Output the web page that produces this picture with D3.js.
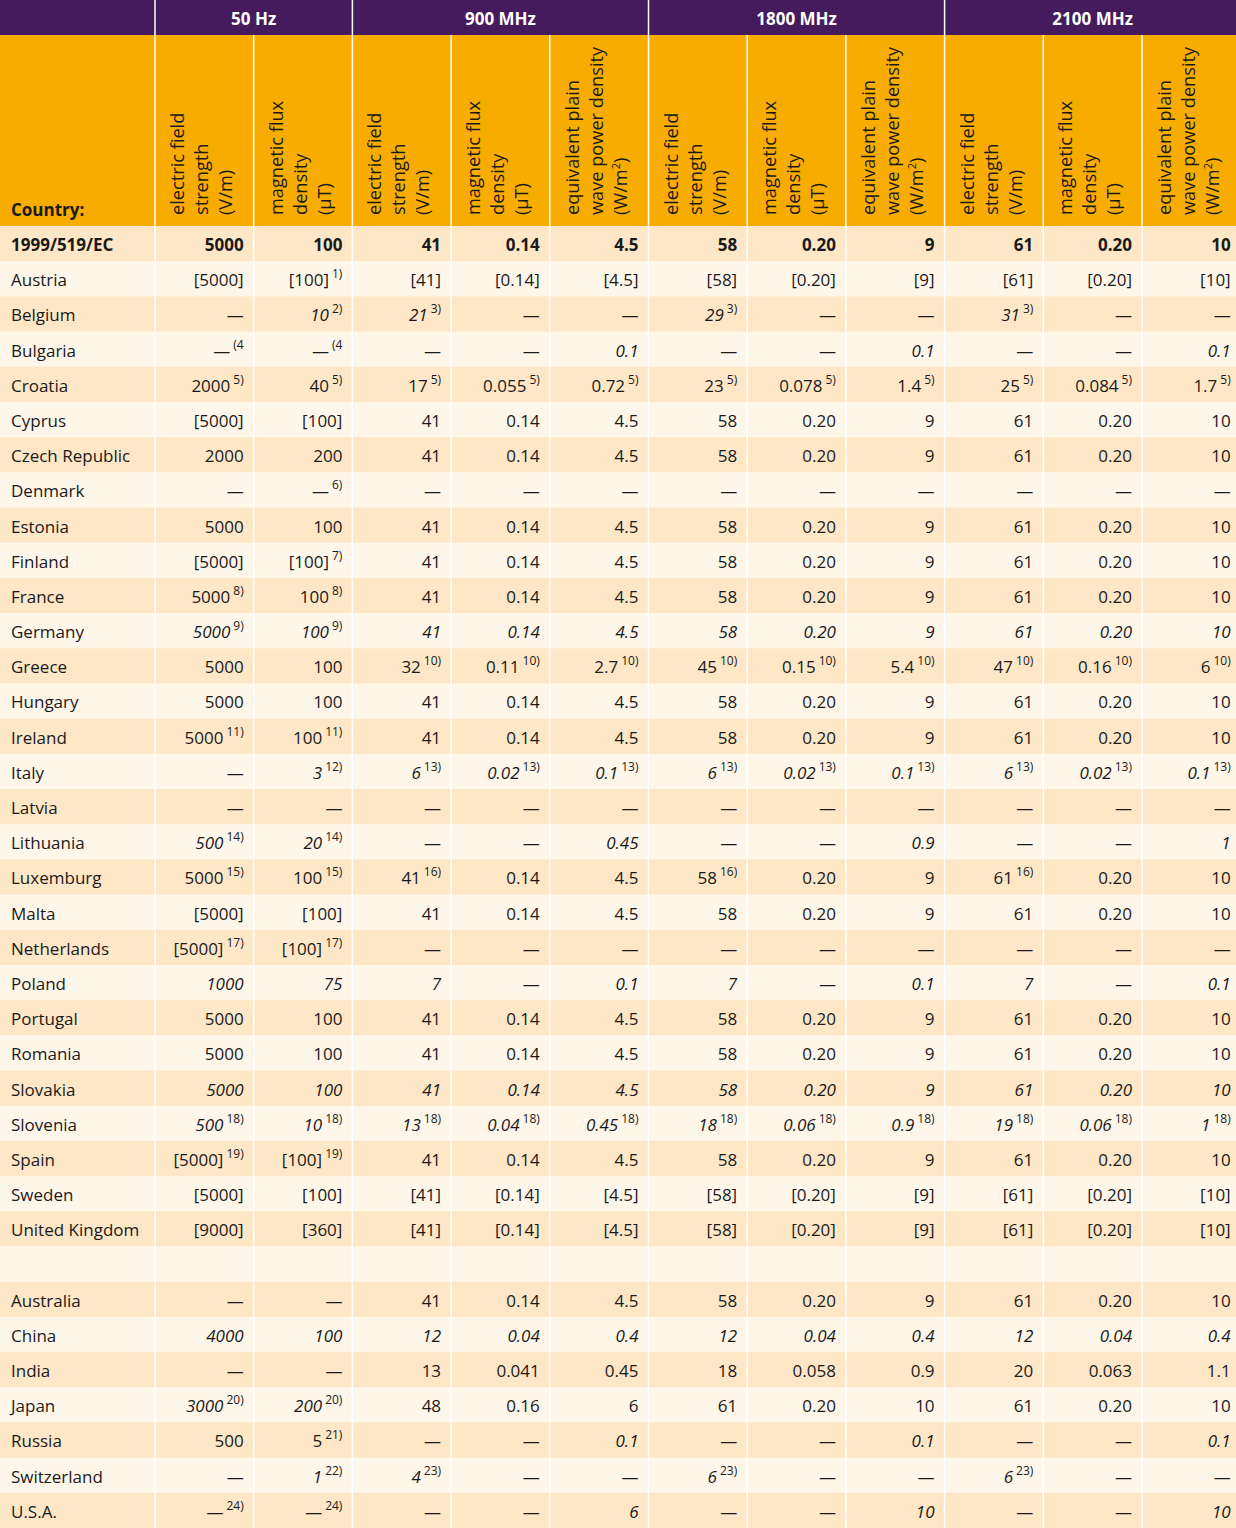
<!DOCTYPE html>
<html><head><meta charset="utf-8">
<script src="https://cdn.jsdelivr.net/npm/d3@7"></script>
<style>
html,body{margin:0;padding:0;background:#fff;overflow:hidden;}
svg{display:block;font-family:"Open Sans",sans-serif;}
</style></head><body>
<svg id="chart" width="1236" height="1528"></svg>
<script>
// ---------- DATA ----------
// notation: leading "*" = italic value, "^" separates value and footnote mark
const groups = ["50 Hz", "900 MHz", "1800 MHz", "2100 MHz"];
const groupSpans = [2, 3, 3, 3];
const headE = ["electric field", "strength", "(V/m)"];
const headB = ["magnetic flux", "density", "(µT)"];
const headS = ["equivalent plain", "wave power density", "(W/m²)"];
const subHeaders = [headE, headB, headE, headB, headS, headE, headB, headS, headE, headB, headS];

const countries = ["1999/519/EC","Austria","Belgium","Bulgaria","Croatia","Cyprus","Czech Republic","Denmark","Estonia","Finland","France","Germany","Greece","Hungary","Ireland","Italy","Latvia","Lithuania","Luxemburg","Malta","Netherlands","Poland","Portugal","Romania","Slovakia","Slovenia","Spain","Sweden","United Kingdom","","Australia","China","India","Japan","Russia","Switzerland","U.S.A."];

const hz50E = ["5000","[5000]","—","—^(4","2000^5)","[5000]","2000","—","5000","[5000]","5000^8)","*5000^9)","5000","5000","5000^11)","—","—","*500^14)","5000^15)","[5000]","[5000]^17)","*1000","5000","5000","*5000","*500^18)","[5000]^19)","[5000]","[9000]","","—","*4000","—","*3000^20)","500","—","—^24)"];
const hz50B = ["100","[100]^1)","*10^2)","—^(4","40^5)","[100]","200","—^6)","100","[100]^7)","100^8)","*100^9)","100","100","100^11)","*3^12)","—","*20^14)","100^15)","[100]","[100]^17)","*75","100","100","*100","*10^18)","[100]^19)","[100]","[360]","","—","*100","—","*200^20)","5^21)","*1^22)","—^24)"];
const mhz900E = ["41","[41]","*21^3)","—","17^5)","41","41","—","41","41","41","*41","32^10)","41","41","*6^13)","—","—","41^16)","41","—","*7","41","41","*41","*13^18)","41","[41]","[41]","","41","*12","13","48","—","*4^23)","—"];
const mhz900B = ["0.14","[0.14]","—","—","0.055^5)","0.14","0.14","—","0.14","0.14","0.14","*0.14","0.11^10)","0.14","0.14","*0.02^13)","—","—","0.14","0.14","—","—","0.14","0.14","*0.14","*0.04^18)","0.14","[0.14]","[0.14]","","0.14","*0.04","0.041","0.16","—","—","—"];
const mhz900S = ["4.5","[4.5]","—","*0.1","0.72^5)","4.5","4.5","—","4.5","4.5","4.5","*4.5","2.7^10)","4.5","4.5","*0.1^13)","—","*0.45","4.5","4.5","—","*0.1","4.5","4.5","*4.5","*0.45^18)","4.5","[4.5]","[4.5]","","4.5","*0.4","0.45","6","*0.1","—","*6"];
const mhz1800E = ["58","[58]","*29^3)","—","23^5)","58","58","—","58","58","58","*58","45^10)","58","58","*6^13)","—","—","58^16)","58","—","*7","58","58","*58","*18^18)","58","[58]","[58]","","58","*12","18","61","—","*6^23)","—"];
const mhz1800B = ["0.20","[0.20]","—","—","0.078^5)","0.20","0.20","—","0.20","0.20","0.20","*0.20","0.15^10)","0.20","0.20","*0.02^13)","—","—","0.20","0.20","—","—","0.20","0.20","*0.20","*0.06^18)","0.20","[0.20]","[0.20]","","0.20","*0.04","0.058","0.20","—","—","—"];
const mhz1800S = ["9","[9]","—","*0.1","1.4^5)","9","9","—","9","9","9","*9","5.4^10)","9","9","*0.1^13)","—","*0.9","9","9","—","*0.1","9","9","*9","*0.9^18)","9","[9]","[9]","","9","*0.4","0.9","10","*0.1","—","*10"];
const mhz2100E = ["61","[61]","*31^3)","—","25^5)","61","61","—","61","61","61","*61","47^10)","61","61","*6^13)","—","—","61^16)","61","—","*7","61","61","*61","*19^18)","61","[61]","[61]","","61","*12","20","61","—","*6^23)","—"];
const mhz2100B = ["0.20","[0.20]","—","—","0.084^5)","0.20","0.20","—","0.20","0.20","0.20","*0.20","0.16^10)","0.20","0.20","*0.02^13)","—","—","0.20","0.20","—","—","0.20","0.20","*0.20","*0.06^18)","0.20","[0.20]","[0.20]","","0.20","*0.04","0.063","0.20","—","—","—"];
const mhz2100S = ["10","[10]","—","*0.1","1.7^5)","10","10","—","10","10","10","*10","6^10)","10","10","*0.1^13)","—","*1","10","10","—","*0.1","10","10","*10","*1^18)","10","[10]","[10]","","10","*0.4","1.1","10","*0.1","—","*10"];

const columns = [hz50E, hz50B, mhz900E, mhz900B, mhz900S, mhz1800E, mhz1800B, mhz1800S, mhz2100E, mhz2100B, mhz2100S];

// ---------- LAYOUT ----------
const W = 1236, H = 1528;
const countryW = 155, colW = 98.7, head1H = 35, head2H = 191;
const bodyTop = head1H + head2H;
const purple = "#461b5d", orange = "#f8ac00", rowDark = "#fee7c6", rowLight = "#fff6ea";
const txt = "#1a1a1a";

const svg = d3.select("#chart");
const x = d3.scaleBand().domain(d3.range(columns.length)).range([countryW, countryW + colW * columns.length]);
const y = d3.scaleBand().domain(d3.range(countries.length)).range([bodyTop, H]);

// body row backgrounds
svg.append("g").selectAll("rect").data(countries).join("rect")
  .attr("x", 0).attr("y", (d,i) => y(i)).attr("width", W).attr("height", y.bandwidth() + 0.5)
  .attr("fill", (d,i) => i % 2 === 0 ? rowDark : rowLight);

// header backgrounds
svg.append("rect").attr("x",0).attr("y",0).attr("width",W).attr("height",head1H).attr("fill",purple);
svg.append("rect").attr("x",0).attr("y",head1H).attr("width",W).attr("height",head2H).attr("fill",orange);

// vertical white lines (all columns, below header row 1)
const bounds = d3.range(columns.length).map(i => x(i));
svg.append("g").selectAll("line").data(bounds).join("line")
  .attr("x1", d => d).attr("x2", d => d).attr("y1", head1H).attr("y2", H)
  .attr("stroke", "#fff").attr("stroke-width", 1.5);

// group boundaries in header row 1
const groupStarts = [];
groupSpans.reduce((acc, s) => { groupStarts.push(acc); return acc + s; }, 0);
svg.append("g").selectAll("line").data(groupStarts).join("line")
  .attr("x1", d => x(d)).attr("x2", d => x(d)).attr("y1", 0).attr("y2", head1H)
  .attr("stroke", "#fff").attr("stroke-width", 1.5);

// group titles
svg.append("g").selectAll("text").data(groups).join("text")
  .attr("x", (d,i) => x(groupStarts[i]) + x.bandwidth() * groupSpans[i] / 2)
  .attr("y", 25).attr("text-anchor", "middle")
  .attr("fill", "#fff").attr("font-weight", 700).attr("font-size", 17)
  .text(d => d);

// "Country:"
svg.append("text").attr("x", 11).attr("y", 216).attr("font-weight", 700)
  .attr("font-size", 17).attr("fill", txt).text("Country:");

// rotated sub headers
const sh = svg.append("g").selectAll("g").data(subHeaders).join("g");
sh.each(function(lines, ci) {
  const g = d3.select(this);
  lines.forEach((line, li) => {
    const bx = x(ci) + 29 + li * 24;
    const t = g.append("text")
      .attr("transform", `translate(${bx},215) rotate(-90)`)
      .attr("font-size", 18.2).attr("fill", txt);
    if (line.indexOf("²") >= 0) {
      t.append("tspan").text("(W/m");
      t.append("tspan").attr("font-size", 11).attr("dy", -7).text("2");
      t.append("tspan").attr("dy", 7).text(")");
    } else {
      t.text(line);
    }
  });
});

// country names
svg.append("g").selectAll("text").data(countries).join("text")
  .attr("x", 11).attr("y", (d,i) => y(i) + 25)
  .attr("font-size", 17).attr("fill", txt)
  .attr("font-weight", (d,i) => i === 0 ? 700 : 400)
  .text(d => d);

// cells
function parseCell(s) {
  let italic = false;
  if (s.startsWith("*")) { italic = true; s = s.slice(1); }
  const parts = s.split("^");
  return { v: parts[0], note: parts[1] || null, italic };
}
columns.forEach((col, ci) => {
  const g = svg.append("g");
  g.selectAll("text").data(col).join("text")
    .attr("x", x(ci) + x.bandwidth() - 10)
    .attr("y", (d,i) => y(i) + 25)
    .attr("text-anchor", "end")
    .attr("font-size", 17).attr("fill", txt)
    .attr("font-weight", (d,i) => i === 0 ? 700 : 400)
    .each(function(d) {
      const c = parseCell(d);
      const t = d3.select(this);
      t.append("tspan").attr("font-style", c.italic ? "italic" : "normal").text(c.v);
      if (c.note) {
        t.append("tspan").attr("dx", 3).attr("dy", -8).attr("font-size", 12).text(c.note);
      }
    });
});
</script>
</body></html>
